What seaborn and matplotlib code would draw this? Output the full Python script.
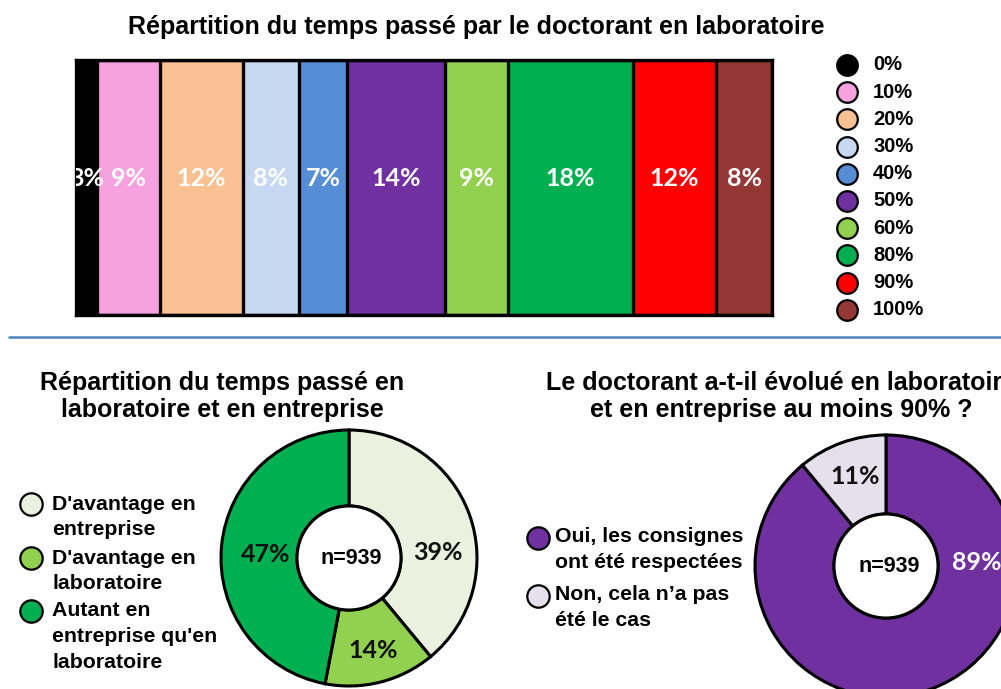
import matplotlib
matplotlib.use("Agg")
import matplotlib.pyplot as plt
import seaborn as sns
import pandas as pd
import numpy as np

# --- data -------------------------------------------------------------
lab_levels = ["0%", "10%", "20%", "30%", "40%", "50%", "60%", "80%", "90%", "100%"]
lab_shares = [3, 9, 12, 8, 7, 14, 9, 18, 12, 8]
lab_colors = ["#000000", "#F7A1E0", "#F9C091", "#C6D9F1", "#558ED5",
              "#7030A0", "#92D050", "#00B050", "#FF0000", "#953735"]

split_labels = ["D'avantage en\nentreprise", "D'avantage en\nlaboratoire",
                "Autant en\nentreprise qu'en\nlaboratoire"]
split_values = [39, 14, 47]
split_colors = ["#EBF1DE", "#92D050", "#00B050"]

rule_labels = ["Oui, les consignes\nont été respectées", "Non, cela n\u2019a pas\nété le cas"]
rule_values = [89, 11]
rule_colors = ["#7030A0", "#E6E0EC"]
n_resp = 939

# --- style ------------------------------------------------------------
sns.set_theme(style="white")
plt.rcParams["font.family"] = ["Liberation Sans", "DejaVu Sans"]
plt.rcParams["text.color"] = "black"
PCT_FONT = ["Lato", "DejaVu Sans"]

W, H = 1001, 689
fig = plt.figure(figsize=(W / 100, H / 100), dpi=100)
fig.patch.set_facecolor("white")


def Y(py):
    return H - py


# --- stacked bar (drawn as overlapping cumulative bars) ---------------
bx0, bx1, by0, by1 = 76, 772, 60, 315
axb = fig.add_axes([bx0 / W, 1 - by1 / H, (bx1 - bx0) / W, (by1 - by0) / H])
cum = np.cumsum(lab_shares)
df = pd.DataFrame({"level": lab_levels, "cum": cum, "row": ["r"] * len(lab_levels)})
for i in range(len(lab_levels) - 1, -1, -1):
    sns.barplot(data=df.iloc[[i]], x="cum", y="row", orient="h", ax=axb,
                color=lab_colors[i], saturation=1, width=1.0,
                edgecolor="black", linewidth=2.4)
axb.set_xlim(0, 100)
axb.set_ylim(0.5, -0.5)
axb.set_xlabel("")
axb.set_ylabel("")
axb.set_xticks([])
axb.set_yticks([])
for s in axb.spines.values():
    s.set_visible(True)
    s.set_color("black")
    s.set_linewidth(2.4)
starts = np.concatenate([[0], cum[:-1]])
for st, v in zip(starts, lab_shares):
    axb.text(st + v / 2, -0.036, f"{v}%", ha="center", va="center",
             color="white", fontsize=18, fontweight="bold", family=PCT_FONT,
             clip_on=True)

# --- canvas for titles, legends, donuts -------------------------------
ax = fig.add_axes([0, 0, 1, 1])
ax.set_zorder(-1)
ax.patch.set_alpha(0)

fig.text(476 / W, 1 - 27 / H, "Répartition du temps passé par le doctorant en laboratoire",
         ha="center", va="center", fontsize=18, fontweight="bold")

# legend of the stacked bar
for i, (lab, col) in enumerate(zip(lab_levels, lab_colors)):
    py = 65 + i * 27.2
    ax.scatter([847], [Y(py)], s=220, color=col, edgecolor="black", linewidth=1.6, zorder=3)
    ax.text(873, Y(py), lab, ha="left", va="center", fontsize=14.5, fontweight="bold")

# separator
ax.plot([9, W], [Y(337), Y(337)], color="#4F81BD", linewidth=1.8)


def multiline(x, y0, text, step, size):
    for k, line in enumerate(text.split("\n")):
        ax.text(x, Y(y0 + k * step), line, ha="left", va="center",
                fontsize=size, fontweight="bold")


def title2(xc, text):
    for k, line in enumerate(text.split("\n")):
        fig.text(xc / W, 1 - (383 + k * 27) / H, line, ha="center", va="center",
                 fontsize=18, fontweight="bold")


# --- left donut ------------------------------------------------------
title2(222, "Répartition du temps passé en\nlaboratoire et en entreprise")
c1 = (349, Y(558))
R, r_in = 128, 52
ax.pie(split_values, colors=split_colors, startangle=90, counterclock=False,
       radius=R, center=c1,
       wedgeprops=dict(width=R - r_in, edgecolor="black", linewidth=2.2))
ax.add_patch(plt.Circle(c1, r_in, facecolor="white", edgecolor="black", linewidth=2.2, zorder=2))
ax.text(c1[0] + 2, c1[1] - 1, f"n={n_resp}", ha="center", va="center", fontsize=15.5, fontweight="bold")
for (px, py), v in zip([(438, 553), (373, 650), (266, 555)], split_values):
    ax.text(px, Y(py), f"{v}%", ha="center", va="center", fontsize=18,
            fontweight="bold", family=PCT_FONT, color="#111111")

for py, lab, col in zip([504, 558, 611], split_labels, split_colors):
    ax.scatter([31], [Y(py)], s=260, color=col, edgecolor="black", linewidth=1.6, zorder=3)
    multiline(52, py, lab, 25.7, 15.3)

# --- right donut -----------------------------------------------------
title2(781, "Le doctorant a-t-il évolué en laboratoire\net en entreprise au moins 90% ?")
c2 = (886, Y(566))
R2, r2_in = 131, 52
ax.pie(rule_values, colors=rule_colors, startangle=90, counterclock=False,
       radius=R2, center=c2,
       wedgeprops=dict(width=R2 - r2_in, edgecolor="black", linewidth=2.2))
ax.add_patch(plt.Circle(c2, r2_in, facecolor="white", edgecolor="black", linewidth=2.2, zorder=2))
ax.text(c2[0] + 3, c2[1] - 1, f"n={n_resp}", ha="center", va="center", fontsize=15.5, fontweight="bold")
ax.text(977, Y(563), f"{rule_values[0]}%", ha="center", va="center", fontsize=18,
        fontweight="bold", family=PCT_FONT, color="white")
ax.text(855, Y(477), f"{rule_values[1]}%", ha="center", va="center", fontsize=18,
        fontweight="bold", family=PCT_FONT, color="#111111")

for py, lab, col in zip([538, 596], rule_labels, rule_colors):
    ax.scatter([538], [Y(py)], s=260, color=col, edgecolor="black", linewidth=1.6, zorder=3)
    multiline(555, py - 1, lab, 25.5, 15.3)

ax.set_xlim(0, W)
ax.set_ylim(0, H)
ax.axis("off")

fig.savefig("out.png", dpi=100, facecolor="white")
